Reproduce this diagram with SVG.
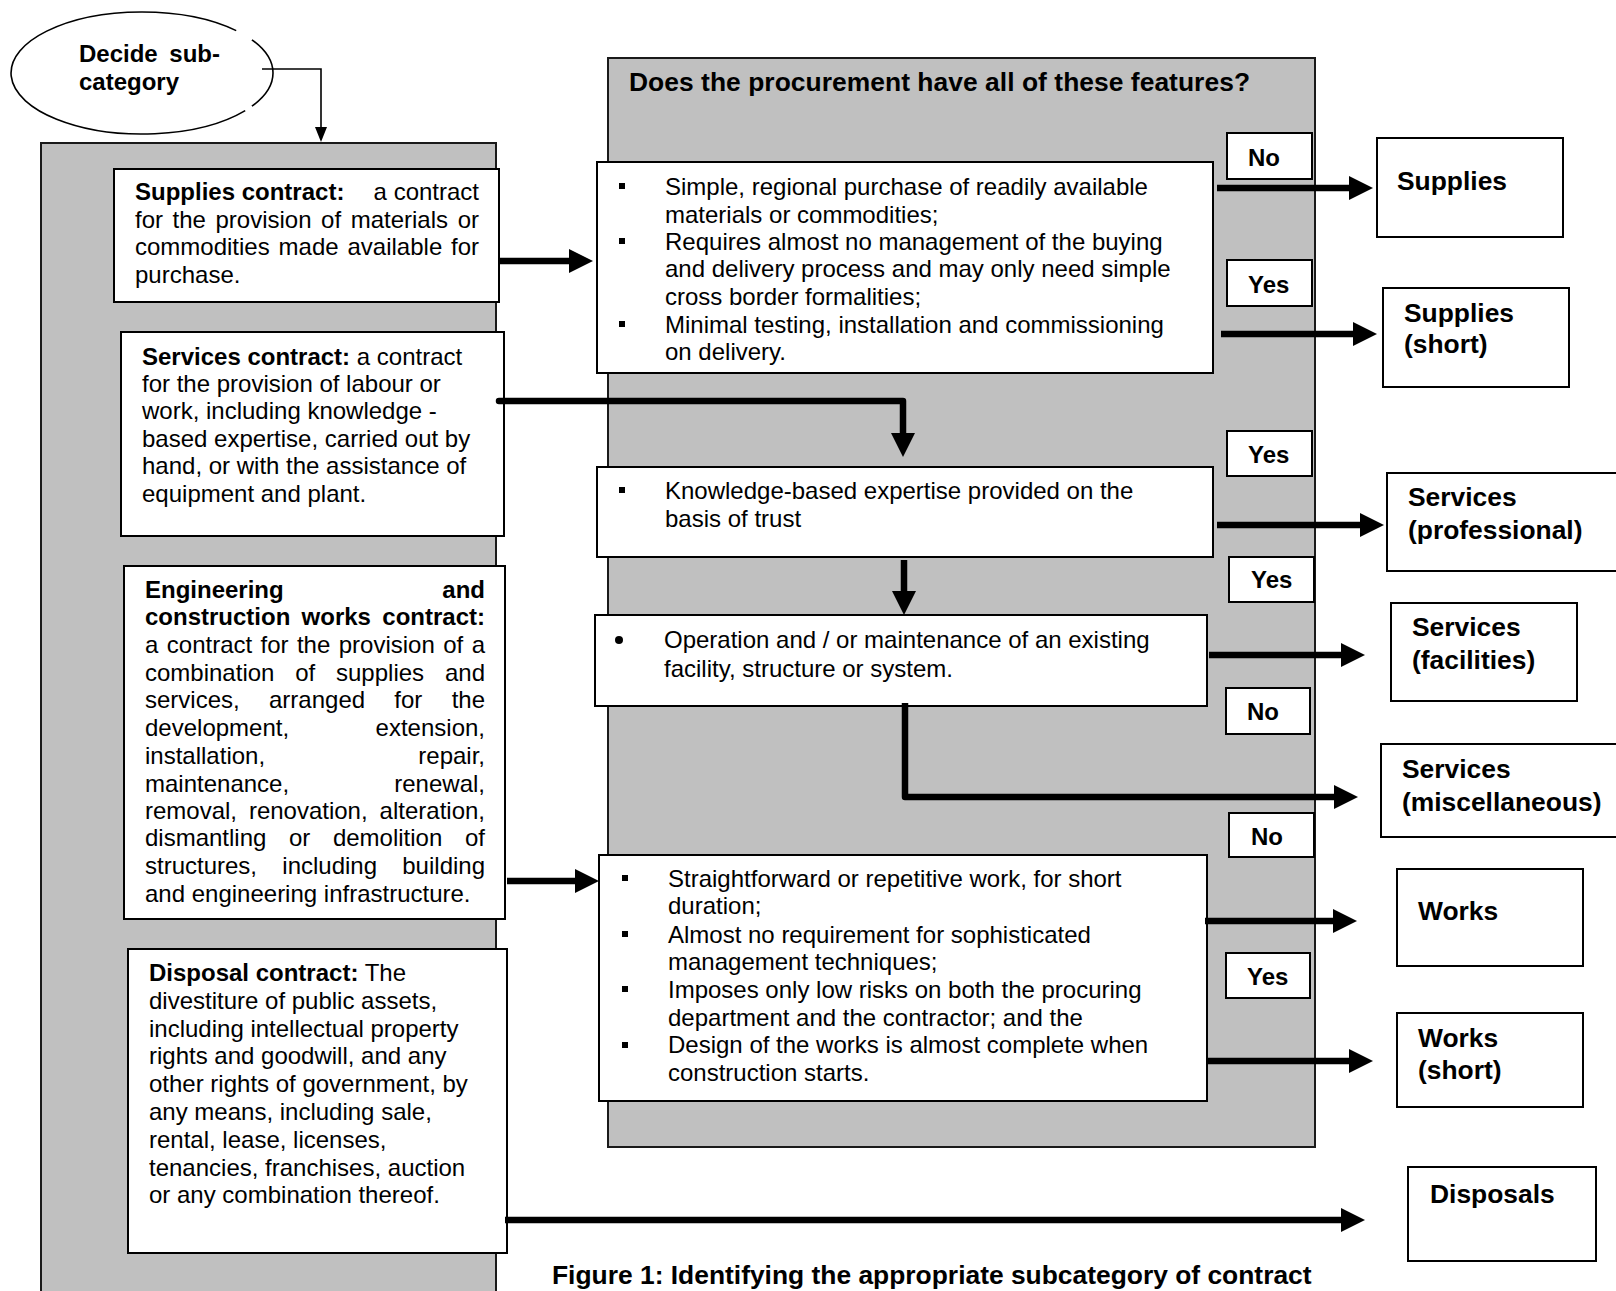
<svg xmlns="http://www.w3.org/2000/svg" width="1616" height="1291" viewBox="0 0 1616 1291">
<defs>
<style>
.panel{fill:#c0c0c0;stroke:#1a1a1a;stroke-width:2}
.box{fill:#fff;stroke:#000;stroke-width:2}
.t{font-family:"Liberation Sans",Arial,sans-serif;font-size:24px;fill:#000}
.b{font-weight:bold}
.rt{font-family:"Liberation Sans",Arial,sans-serif;font-size:26.4px;font-weight:bold;fill:#000}
.e{text-anchor:end}
.conn{stroke:#000;stroke-width:6.5;fill:none;stroke-linejoin:round}
.thin{stroke:#000;stroke-width:1.6;fill:none}
.sq{fill:#000}
</style>
<marker id="ah" markerUnits="userSpaceOnUse" markerWidth="24" markerHeight="24" refX="0" refY="12" orient="auto"><path d="M0,0 L24,12 L0,24 z" fill="#000"/></marker>
<marker id="ahs" markerUnits="userSpaceOnUse" markerWidth="15" markerHeight="12" refX="0" refY="6" orient="auto"><path d="M0,0 L15,6 L0,12 z" fill="#000"/></marker>
</defs>
<rect width="1616" height="1291" fill="#fff"/>

<g id="left-panel"><rect class="panel" x="41" y="143" width="455" height="1170"/></g>
<g id="right-panel">
<rect class="panel" x="608" y="58" width="707" height="1089"/>
<text class="rt" x="629" y="91" textLength="621">Does the procurement have all of these features?</text>
</g>

<g id="decide">
<path class="thin" d="M251.9,39.8 A131,61 0 0 1 251.9,106.2 M245.2,110.6 A131,61 0 1 1 236.2,30.6" fill="#fff"/>
<text class="t b" x="79" y="62">Decide</text>
<text class="t b e" x="220" y="62">sub-</text>
<text class="t b" x="79" y="90">category</text>
</g>

<g id="supplies-contract">
<rect class="box" x="114" y="169" width="385" height="133"/>
<text class="t b" x="135" y="200">Supplies contract:</text>
<text class="t e" x="479" y="200">a contract</text>
<text class="t" y="228"><tspan x="135">for</tspan><tspan x="172.6">the</tspan><tspan x="215.5">provision</tspan><tspan x="321.1">of</tspan><tspan x="350.7">materials</tspan><tspan x="457.7">or</tspan></text>
<text class="t" y="255"><tspan x="135">commodities</tspan><tspan x="278.6">made</tspan><tspan x="347.5">available</tspan><tspan x="451">for</tspan></text>
<text class="t" x="135" y="283">purchase.</text>
</g>

<g id="services-contract">
<rect class="box" x="121" y="332" width="383" height="204"/>
<text class="t" x="142" y="365"><tspan class="b">Services contract:</tspan> a contract</text>
<text class="t" x="142" y="392">for the provision of labour or</text>
<text class="t" x="142" y="419">work, including knowledge -</text>
<text class="t" x="142" y="447">based expertise, carried out by</text>
<text class="t" x="142" y="474">hand, or with the assistance of</text>
<text class="t" x="142" y="502">equipment and plant.</text>
</g>

<g id="works-contract">
<rect class="box" x="124" y="566" width="381" height="353"/>
<text class="t b" x="145" y="597.5">Engineering</text>
<text class="t b e" x="485" y="597.5">and</text>
<text class="t b" y="625"><tspan x="145">construction</tspan><tspan x="301.6">works</tspan></text>
<text class="t b e" x="485" y="625">contract:</text>
<text class="t" y="653"><tspan x="145">a</tspan><tspan x="166.8">contract</tspan><tspan x="260.5">for</tspan><tspan x="296.9">the</tspan><tspan x="338.7">provision</tspan><tspan x="443.2">of</tspan></text>
<text class="t e" x="485" y="653">a</text>
<text class="t" y="680.5"><tspan x="145">combination</tspan><tspan x="295.2">of</tspan><tspan x="336">supplies</tspan></text>
<text class="t e" x="485" y="680.5">and</text>
<text class="t" y="708"><tspan x="145">services,</tspan><tspan x="269">arranged</tspan><tspan x="394.3">for</tspan></text>
<text class="t e" x="485" y="708">the</text>
<text class="t" x="145" y="736">development,</text>
<text class="t e" x="485" y="736">extension,</text>
<text class="t" x="145" y="764">installation,</text>
<text class="t e" x="485" y="764">repair,</text>
<text class="t" x="145" y="791.5">maintenance,</text>
<text class="t e" x="485" y="791.5">renewal,</text>
<text class="t" y="819"><tspan x="145">removal,</tspan><tspan x="248.9">renovation,</tspan></text>
<text class="t e" x="485" y="819">alteration,</text>
<text class="t" y="846"><tspan x="145">dismantling</tspan><tspan x="289">or</tspan><tspan x="332.9">demolition</tspan></text>
<text class="t e" x="485" y="846">of</text>
<text class="t" y="874"><tspan x="145">structures,</tspan><tspan x="282.3">including</tspan></text>
<text class="t e" x="485" y="874">building</text>
<text class="t" x="145" y="902">and engineering infrastructure.</text>
</g>

<g id="disposal-contract">
<rect class="box" x="128" y="949" width="379" height="304"/>
<text class="t" x="149" y="981"><tspan class="b">Disposal contract:</tspan> The</text>
<text class="t" x="149" y="1009">divestiture of public assets,</text>
<text class="t" x="149" y="1037">including intellectual property</text>
<text class="t" x="149" y="1064">rights and goodwill, and any</text>
<text class="t" x="149" y="1092">other rights of government, by</text>
<text class="t" x="149" y="1120">any means, including sale,</text>
<text class="t" x="149" y="1148">rental, lease, licenses,</text>
<text class="t" x="149" y="1176">tenancies, franchises, auction</text>
<text class="t" x="149" y="1203">or any combination thereof.</text>
</g>

<g id="supplies-features">
<rect class="box" x="597" y="162" width="616" height="211"/>
<rect class="sq" x="619" y="183" width="6" height="6"/>
<rect class="sq" x="619" y="238" width="6" height="6"/>
<rect class="sq" x="619" y="321" width="6" height="6"/>
<text class="t" x="665" y="195">Simple, regional purchase of readily available</text>
<text class="t" x="665" y="223">materials or commodities;</text>
<text class="t" x="665" y="250">Requires almost no management of the buying</text>
<text class="t" x="665" y="277">and delivery process and may only need simple</text>
<text class="t" x="665" y="305">cross border formalities;</text>
<text class="t" x="665" y="333">Minimal testing, installation and commissioning</text>
<text class="t" x="665" y="360">on delivery.</text>
</g>

<g id="knowledge-feature">
<rect class="box" x="597" y="467" width="616" height="90"/>
<rect class="sq" x="619" y="487" width="6" height="6"/>
<text class="t" x="665" y="499">Knowledge-based expertise provided on the</text>
<text class="t" x="665" y="527">basis of trust</text>
</g>

<g id="operation-feature">
<rect class="box" x="595" y="615" width="612" height="91"/>
<circle cx="619" cy="640" r="4"/>
<text class="t" x="664" y="648">Operation and / or maintenance of an existing</text>
<text class="t" x="664" y="677">facility, structure or system.</text>
</g>

<g id="works-features">
<rect class="box" x="599" y="855" width="608" height="246"/>
<rect class="sq" x="622" y="875" width="6" height="6"/>
<rect class="sq" x="622" y="931" width="6" height="6"/>
<rect class="sq" x="622" y="986" width="6" height="6"/>
<rect class="sq" x="622" y="1042" width="6" height="6"/>
<text class="t" x="668" y="887">Straightforward or repetitive work, for short</text>
<text class="t" x="668" y="914">duration;</text>
<text class="t" x="668" y="943">Almost no requirement for sophisticated</text>
<text class="t" x="668" y="970">management techniques;</text>
<text class="t" x="668" y="998">Imposes only low risks on both the procuring</text>
<text class="t" x="668" y="1026">department and the contractor; and the</text>
<text class="t" x="668" y="1053">Design of the works is almost complete when</text>
<text class="t" x="668" y="1081">construction starts.</text>
</g>

<g id="label-no-1"><rect class="box" x="1227" y="133" width="85" height="46"/><text class="t b" x="1248" y="166">No</text></g>
<g id="label-yes-1"><rect class="box" x="1227" y="260" width="85" height="46"/><text class="t b" x="1248" y="293">Yes</text></g>
<g id="label-yes-2"><rect class="box" x="1227" y="431" width="85" height="45"/><text class="t b" x="1248" y="463">Yes</text></g>
<g id="label-yes-3"><rect class="box" x="1229" y="557" width="85" height="45"/><text class="t b" x="1251" y="588">Yes</text></g>
<g id="label-no-2"><rect class="box" x="1226" y="688" width="84" height="46"/><text class="t b" x="1247" y="720">No</text></g>
<g id="label-no-3"><rect class="box" x="1229" y="813" width="85" height="44"/><text class="t b" x="1251" y="845">No</text></g>
<g id="label-yes-4"><rect class="box" x="1226" y="953" width="84" height="45"/><text class="t b" x="1247" y="985">Yes</text></g>

<g id="res-supplies"><rect class="box" x="1377" y="138" width="186" height="99"/><text class="rt" x="1397" y="190">Supplies</text></g>
<g id="res-supplies-short"><rect class="box" x="1383" y="288" width="186" height="99"/><text class="rt" x="1404" y="322">Supplies</text><text class="rt" x="1404" y="353">(short)</text></g>
<g id="res-services-prof"><rect class="box" x="1387" y="473" width="240" height="98"/><text class="rt" x="1408" y="506">Services</text><text class="rt" x="1408" y="539">(professional)</text></g>
<g id="res-services-fac"><rect class="box" x="1391" y="603" width="186" height="98"/><text class="rt" x="1412" y="636">Services</text><text class="rt" x="1412" y="669">(facilities)</text></g>
<g id="res-services-misc"><rect class="box" x="1381" y="744" width="250" height="93"/><text class="rt" x="1402" y="778">Services</text><text class="rt" x="1402" y="811">(miscellaneous)</text></g>
<g id="res-works"><rect class="box" x="1397" y="869" width="186" height="97"/><text class="rt" x="1418" y="920">Works</text></g>
<g id="res-works-short"><rect class="box" x="1397" y="1013" width="186" height="94"/><text class="rt" x="1418" y="1047">Works</text><text class="rt" x="1418" y="1079">(short)</text></g>
<g id="res-disposals"><rect class="box" x="1408" y="1167" width="188" height="94"/><text class="rt" x="1430" y="1203">Disposals</text></g>

<g id="connectors">
<path class="thin" d="M262,69 H321 V127" marker-end="url(#ahs)"/>
<path class="conn" d="M499,261 H569" marker-end="url(#ah)"/>
<path class="conn" d="M499,401 H903 V433" marker-end="url(#ah)" stroke-linecap="round"/>
<path class="conn" d="M904,560 V591" marker-end="url(#ah)"/>
<path class="conn" d="M905,703 V797 H1334" marker-end="url(#ah)"/>
<path class="conn" d="M507,881 H575" marker-end="url(#ah)"/>
<path class="conn" d="M505,1220 H1341" marker-end="url(#ah)"/>
<path class="conn" d="M1217,188 H1349" marker-end="url(#ah)"/>
<path class="conn" d="M1221,334 H1353" marker-end="url(#ah)"/>
<path class="conn" d="M1217,525 H1360" marker-end="url(#ah)"/>
<path class="conn" d="M1209,655 H1341" marker-end="url(#ah)"/>
<path class="conn" d="M1205,921 H1333" marker-end="url(#ah)"/>
<path class="conn" d="M1207,1061 H1349" marker-end="url(#ah)"/>
</g>

<g id="caption"><text class="rt" x="552" y="1284">Figure 1: Identifying the appropriate subcategory of contract</text></g>
</svg>
